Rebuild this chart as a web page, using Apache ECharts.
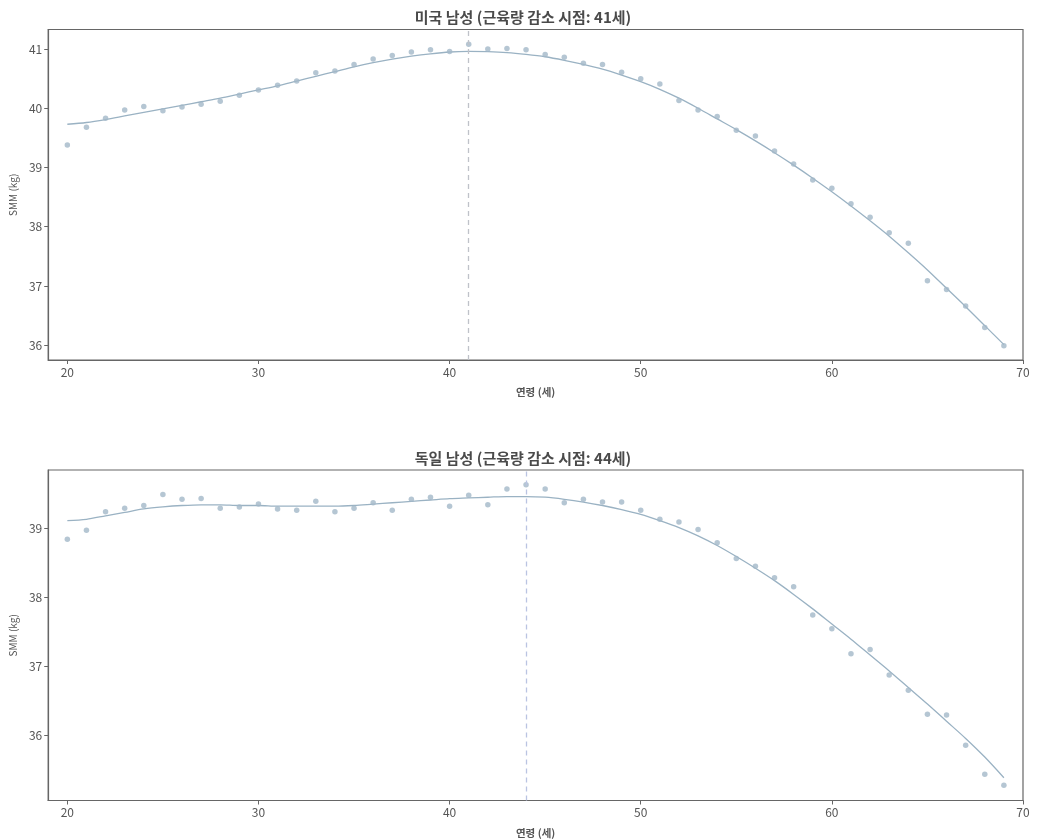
<!DOCTYPE html>
<html>
<head>
<meta charset="utf-8">
<script src="https://cdn.jsdelivr.net/npm/echarts@6/dist/echarts.min.js"></script>
<style>
html,body{margin:0;padding:0;background:#fff;}
#chart{width:1046px;height:840px;}
</style>
</head>
<body>
<div id="chart"></div>
<script>
const ages = [20,21,22,23,24,25,26,27,28,29,30,31,32,33,34,35,36,37,38,39,40,41,42,43,44,45,46,47,48,49,50,51,52,53,54,55,56,57,58,59,60,61,62,63,64,65,66,67,68,69];

const usActual = [39.38,39.68,39.83,39.97,40.03,39.96,40.02,40.07,40.12,40.22,40.31,40.39,40.46,40.60,40.63,40.74,40.83,40.89,40.95,40.99,40.96,41.08,41.00,41.01,40.99,40.91,40.86,40.76,40.74,40.61,40.50,40.41,40.13,39.97,39.86,39.63,39.53,39.28,39.06,38.79,38.65,38.39,38.16,37.90,37.72,37.09,36.94,36.66,36.30,35.99];
const usFit = [39.73,39.76,39.81,39.87,39.93,39.99,40.05,40.11,40.17,40.24,40.31,40.38,40.46,40.54,40.62,40.70,40.77,40.83,40.88,40.92,40.95,40.96,40.955,40.94,40.91,40.87,40.81,40.74,40.66,40.56,40.45,40.32,40.17,40.00,39.82,39.64,39.45,39.25,39.04,38.82,38.59,38.35,38.10,37.84,37.56,37.27,36.96,36.65,36.33,36.01];

const deActual = [38.84,38.97,39.24,39.29,39.33,39.49,39.42,39.43,39.29,39.31,39.35,39.28,39.26,39.39,39.24,39.29,39.37,39.26,39.42,39.45,39.32,39.48,39.34,39.57,39.63,39.57,39.37,39.42,39.38,39.38,39.26,39.13,39.09,38.98,38.79,38.56,38.45,38.28,38.15,37.74,37.54,37.18,37.24,36.87,36.65,36.30,36.29,35.85,35.43,35.27];
const deFit = [39.11,39.13,39.18,39.23,39.28,39.31,39.33,39.34,39.34,39.33,39.33,39.32,39.32,39.32,39.32,39.33,39.35,39.37,39.39,39.41,39.43,39.44,39.45,39.46,39.46,39.45,39.42,39.38,39.33,39.27,39.20,39.11,39.01,38.89,38.75,38.59,38.42,38.24,38.04,37.83,37.61,37.39,37.16,36.93,36.69,36.45,36.20,35.95,35.68,35.38];

const titles = ['미국 남성 (근육량 감소 시점: 41세)', '독일 남성 (근육량 감소 시점: 44세)'];
const cutoffs = [41, 44];
const xName = '연령 (세)';
const yName = 'SMM (kg)';

const FONT = '"Noto Sans CJK KR", "Noto Sans", sans-serif';
const dotColor = '#a3b8c8';
const lineColor = '#9ab2c3';
const vColors = ['#bfc2c9', '#bac4e2'];
const yRanges = [[35.75, 41.33], [35.05, 39.845]];

const pair = (xs, ys) => xs.map((x, i) => [x, ys[i]]);
const actuals = [usActual, deActual];
const fits = [usFit, deFit];

const grids = [
  {left: 48, right: 23, top: 29.5, height: 330.5},
  {left: 48, right: 23, top: 470, height: 330.5}
];

const option = {
  backgroundColor: '#fff',
  animation: false,
  title: titles.map((t, i) => ({
    text: t, left: 'center', top: i === 0 ? 5 : 446,
    textStyle: {fontFamily: FONT, fontSize: 15, fontWeight: 'bold', color: '#4a4a4a'}
  })),
  grid: grids.map(g => Object.assign({show: true, borderColor: '#666', borderWidth: 1.2, backgroundColor: 'transparent'}, g)),
  xAxis: [0, 1].map(i => ({
    type: 'value', gridIndex: i, min: 19, max: 70, splitNumber: 5,
    name: xName, nameLocation: 'middle', nameGap: 27,
    nameTextStyle: {fontFamily: FONT, fontSize: 10.5, fontWeight: 'bold', color: '#555'},
    axisLine: {show: true, lineStyle: {color: '#666', width: 1.2}},
    axisTick: {show: true, length: 4, lineStyle: {color: '#666'}},
    axisLabel: {showMinLabel: false, fontFamily: FONT, fontSize: 12, color: '#555', margin: 6},
    splitLine: {show: false}
  })),
  yAxis: [0, 1].map(i => ({
    type: 'value', gridIndex: i, min: yRanges[i][0], max: yRanges[i][1], splitNumber: 5,
    name: yName, nameLocation: 'middle', nameGap: 29,
    nameTextStyle: {fontFamily: FONT, fontSize: 10, color: '#555'},
    axisLine: {show: true, lineStyle: {color: '#666', width: 1.2}},
    axisTick: {show: true, length: 4, lineStyle: {color: '#666'}},
    axisLabel: {showMinLabel: false, showMaxLabel: false, fontFamily: FONT, fontSize: 12, color: '#555', margin: 6},
    splitLine: {show: false}
  })),
  series: []
};

[0, 1].forEach(i => {
  option.series.push({
    type: 'scatter', xAxisIndex: i, yAxisIndex: i,
    data: pair(ages, actuals[i]), symbolSize: 5.5,
    itemStyle: {color: dotColor}, z: 3
  });
  option.series.push({
    type: 'line', xAxisIndex: i, yAxisIndex: i,
    data: pair(ages, fits[i]), smooth: 0.3, showSymbol: false, symbol: 'none',
    lineStyle: {color: lineColor, width: 1.3}, z: 2,
    markLine: {
      silent: true, symbol: 'none', label: {show: false},
      lineStyle: {type: [5, 4], color: vColors[i], width: 1.3},
      data: [{xAxis: cutoffs[i]}]
    }
  });
});

const chart = echarts.init(document.getElementById('chart'), null, {renderer: 'canvas'});
chart.setOption(option);
</script>
</body>
</html>
